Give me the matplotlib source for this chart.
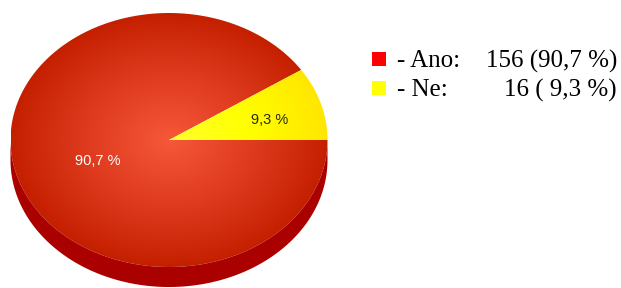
import numpy as np
import matplotlib.pyplot as plt
from matplotlib.patches import Polygon, Rectangle
from matplotlib.colors import LinearSegmentedColormap

labels = ['Ano', 'Ne']
counts = [156, 16]
pct_labels = ['90,7 %', '9,3 %']
legend_pct = ['(90,7 %)', '( 9,3 %)']
colors = ['#ff0000', '#ffff00']

# pie geometry in pixels
cx, cy = 169, 140
a, b = 158.5, 127
depth = 20
label_r = [0.47, 0.66]

fig = plt.figure(figsize=(6.21, 2.88), dpi=100)
ax = fig.add_axes([0, 0, 1, 1])
ax.set_xlim(0, 621)
ax.set_ylim(288, 0)
ax.axis('off')


def ell(t, dy=0):
    return np.column_stack([cx + a * np.cos(t), cy - b * np.sin(t) + dy])


# side of the pie (front half only)
t = np.linspace(np.pi, 2 * np.pi, 200)
side = np.vstack([ell(t), ell(t[::-1], depth)])
ax.add_patch(Polygon(side, closed=True, fc='#ab0000', ec='none'))

# radial gradient for the top
xs = np.linspace(cx - a, cx + a, 400)
ys = np.linspace(cy - b, cy + b, 320)
X, Y = np.meshgrid(xs, ys)
R = np.sqrt(((X - cx) / a) ** 2 + ((Y - cy) / b) ** 2)
R = np.clip(R, 0, 1)

cmaps = [LinearSegmentedColormap.from_list('r', ['#f65838', '#e03c20', '#c42000']),
         LinearSegmentedColormap.from_list('y', ['#ffff30', '#ffff00', '#ffe600'])]

total = sum(counts)
start = 0.0
for i, c in enumerate(counts):
    sweep = 360.0 * c / total
    t0, t1 = np.radians(start - sweep), np.radians(start)
    t = np.linspace(t0, t1, 300)
    pts = np.vstack([[cx, cy], ell(t)])
    poly = Polygon(pts, closed=True, fc='none', ec='none')
    ax.add_patch(poly)
    im = ax.imshow(R, cmap=cmaps[i], extent=(cx - a, cx + a, cy + b, cy - b),
                   origin='upper', interpolation='bilinear', vmin=0, vmax=1)
    im.set_clip_path(poly)
    mid = np.radians(start - sweep / 2)
    lx = cx + label_r[i] * a * np.cos(mid)
    ly = cy - label_r[i] * b * np.sin(mid) + 4
    ax.text(lx, ly, pct_labels[i], ha='center', va='center', fontsize=10.5,
            family='Liberation Sans',
            color='white' if i == 0 else '#2a2a00')
    start -= sweep

ax.set_xlim(0, 621)
ax.set_ylim(288, 0)

# legend
for i, lab in enumerate(labels):
    y = 59 + i * 29
    ax.add_patch(Rectangle((372, y - 7), 14, 14, fc=colors[i], ec='none'))
    ax.text(397, y + 2, '- ' + lab + ':', ha='left', va='center', fontsize=18,
            family='Liberation Serif')
    ax.text(617, y + 2, f'{counts[i]} {legend_pct[i]}', ha='right', va='center',
            fontsize=18, family='Liberation Serif')

fig.savefig('out.png', dpi=100)
